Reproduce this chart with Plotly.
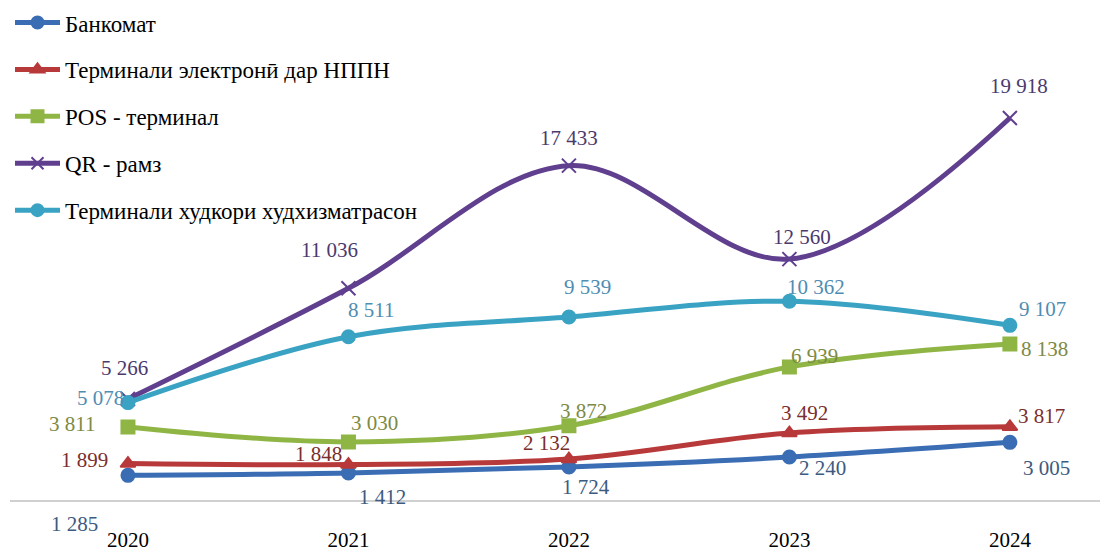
import plotly.graph_objects as go

years = [2020, 2021, 2022, 2023, 2024]

series_names = [
    "Банкомат",
    "Терминали электронӣ дар НППН",
    "POS - терминал",
    "QR - рамз",
    "Терминали худкори худхизматрасон",
]

atm = [1285, 1412, 1724, 2240, 3005]
e_terminal = [1899, 1848, 2132, 3492, 3817]
pos_terminal = [3811, 3030, 3872, 6939, 8138]
qr_code = [5266, 11036, 17433, 12560, 19918]
self_service = [5078, 8511, 9539, 10362, 9107]

# label offsets in pixels (dx right, dy down), one list per series
label_offsets = [
    [(-53, 49), (34, 24), (17, 20), (33, 11), (37, 26)],
    [(-43, -4), (-30, -11), (-22, -16), (15, -20), (32, -11)],
    [(-56, -3), (26, -19), (15, -15), (25, -11), (35, 5)],
    [(-3, -31), (-19, -38), (0, -28), (13, -22), (9, -32)],
    [(-27, -5), (23, -27), (19, -30), (27, -14), (33, -16)],
]

line_colors = ["#3a6db3", "#b8393a", "#8fb545", "#5f3f8e", "#3aa3c4"]
label_colors = ["#3d5a80", "#7a2e2e", "#7d8a45", "#4b3a6e", "#4f8db3"]
symbols = ["circle", "triangle-up", "square", "x-thin", "circle"]

FONT = "Liberation Serif"

fig = go.Figure()
annotations = []
all_values = [atm, e_terminal, pos_terminal, qr_code, self_service]

for i, (name, values) in enumerate(zip(series_names, all_values)):
    fig.add_trace(
        go.Scatter(
            x=years,
            y=values,
            name=name,
            mode="lines+markers",
            legendgroup=f"g{i}",
            line=dict(color=line_colors[i], width=5, shape="spline"),
            marker=dict(
                symbol=symbols[i],
                size=13 if symbols[i] != "x-thin" else 14,
                color=line_colors[i],
                line=dict(color=line_colors[i], width=2),
            ),
        )
    )
    for x, v, (dx, dy) in zip(years, values, label_offsets[i]):
        annotations.append(
            dict(
                x=x,
                y=v,
                text=f"{v:,}".replace(",", " "),
                showarrow=False,
                xshift=dx,
                yshift=-dy,
                font=dict(family=FONT, size=21, color=label_colors[i]),
            )
        )

fig.update_layout(
    width=1100,
    height=545,
    margin=dict(l=2, r=0, t=0, b=53, autoexpand=False),
    paper_bgcolor="white",
    plot_bgcolor="white",
    font=dict(family=FONT, size=21, color="black"),
    showlegend=True,
    legend=dict(
        x=0,
        y=1.014,
        xanchor="left",
        yanchor="top",
        tracegroupgap=14,
        itemwidth=45,
        itemsizing="constant",
        bgcolor="rgba(0,0,0,0)",
        font=dict(family=FONT, size=23, color="black"),
    ),
    annotations=annotations,
)

fig.update_xaxes(
    range=[2019.465, 2024.445],
    tickmode="array",
    tickvals=years,
    ticktext=[str(y) for y in years],
    showgrid=False,
    zeroline=False,
    showline=True,
    linecolor="#d0d0d0",
    linewidth=2,
    ticks="",
    ticklabelstandoff=20,
    tickfont=dict(family=FONT, size=21, color="black"),
    automargin=False,
)
fig.update_yaxes(
    range=[0, 25652],
    showgrid=False,
    zeroline=False,
    showticklabels=False,
    showline=False,
    automargin=False,
)

fig.write_html("out.html")
